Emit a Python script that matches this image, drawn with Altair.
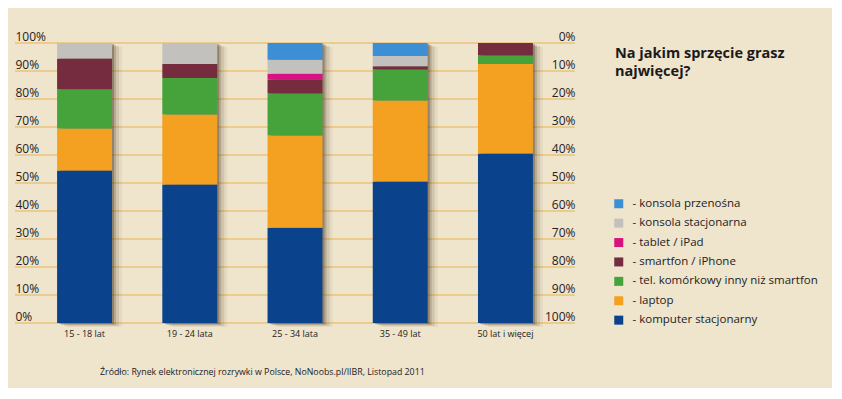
import altair as alt
import pandas as pd

# ---- data ----
categories = ["15 - 18 lat", "19 - 24 lata", "25 - 34 lata", "35 - 49 lat", "50 lat i więcej"]

komputer_stacjonarny = [54.5, 49.5, 34.0, 50.5, 60.5]
laptop = [15.0, 25.0, 33.0, 29.0, 32.0]
tel_komorkowy = [14.0, 13.0, 15.0, 11.0, 3.0]
smartfon = [11.0, 5.0, 5.0, 1.2, 4.5]
tablet = [0.0, 0.0, 2.0, 0.0, 0.0]
konsola_stacjonarna = [5.5, 7.5, 5.0, 3.7, 0.0]
konsola_przenosna = [0.0, 0.0, 6.0, 4.6, 0.0]

# stacking order bottom -> top
series_names = [
    "komputer stacjonarny",
    "laptop",
    "tel. komórkowy inny niż smartfon",
    "smartfon / iPhone",
    "tablet / iPad",
    "konsola stacjonarna",
    "konsola przenośna",
]
series_values = [komputer_stacjonarny, laptop, tel_komorkowy, smartfon, tablet,
                 konsola_stacjonarna, konsola_przenosna]
series_colors = ["#0a428b", "#f4a122", "#46a23a", "#742c3e", "#d7137f", "#c3c1be", "#3c8fd4"]

y_ticks = [0, 10, 20, 30, 40, 50, 60, 70, 80, 90, 100]

title_text = "Na jakim sprzęcie grasz\nnajwięcej?"
source_text = "Źródło: Rynek elektronicznej rozrywki w Polsce, NoNoobs.pl/IIBR,  Listopad 2011"

# ---- tables ----
rows = []
for k, (name, vals) in enumerate(zip(series_names, series_values)):
    for cat, v in zip(categories, vals):
        if v > 0:
            rows.append({"kat": cat, "urz": name, "val": v, "ord": k})
df = pd.DataFrame(rows)
totals = df.groupby("kat", sort=False)["val"].sum().reset_index()
ticks_df = pd.DataFrame({"v": y_ticks})

legend_domain = list(reversed(series_names))
legend_range = list(reversed(series_colors))

FONT = "Open Sans"
BG = "#efe4cc"
GRID = "#e8b350"

x_enc = alt.X("kat:N", sort=categories, title=None,
              scale=alt.Scale(paddingInner=0.478, paddingOuter=0.40),
              axis=alt.Axis(labelAngle=0, ticks=False, domain=False, labelPadding=6,
                            labelFontSize=9, labelFont=FONT, labelColor="#222"))

y_scale = alt.Scale(domain=[0, 100], nice=False)
y_axis = alt.Axis(values=y_ticks, labelExpr="datum.value + '%'", grid=False,
                  domain=False, ticks=False, labelAlign="left", labelBaseline="alphabetic",
                  labelPadding=0, labelOffset=-3, labelFontSize=12,
                  labelFont=FONT, labelColor="#222")

grid_layer = alt.Chart(ticks_df).mark_rule(color=GRID, strokeWidth=1).encode(
    y=alt.Y("v:Q", scale=y_scale, title=None, axis=y_axis)
)

shadows = []
for dx, dy, op in [(2, 1, 0.32), (4, 2, 0.20), (7, 3, 0.12), (10, 4, 0.06)]:
    shadows.append(
        alt.Chart(totals).mark_bar(color="#4a3820", opacity=op, xOffset=dx, yOffset=dy)
        .encode(x=x_enc, y=alt.Y("val:Q", scale=y_scale, title=None, axis=y_axis))
    )

bars = alt.Chart(df).mark_bar().encode(
    x=x_enc,
    y=alt.Y("val:Q", stack="zero", scale=y_scale, title=None, axis=y_axis),
    color=alt.Color("urz:N", scale=alt.Scale(domain=legend_domain, range=legend_range),
                    legend=alt.Legend(orient="none", legendX=598, legendY=155, title=None,
                                      symbolType="square", symbolSize=81,
                                      symbolStrokeWidth=0, labelFontSize=11.5,
                                      labelFont=FONT, labelColor="#222", labelOffset=8,
                                      labelLimit=400, rowPadding=6.4, padding=0,
                                      labelExpr="'- ' + datum.label")),
    order=alt.Order("ord:Q", sort="ascending"),
)

title_layer = alt.Chart(pd.DataFrame({"t": [title_text]})).mark_text(
    align="left", baseline="alphabetic", lineBreak="\n", fontSize=14.5,
    fontWeight="bold", font=FONT, color="#1a1a1a", lineHeight=18
).encode(x=alt.value(600), y=alt.value(15), text="t:N")

source_layer = alt.Chart(pd.DataFrame({"t": [source_text]})).mark_text(
    align="left", baseline="alphabetic", fontSize=8.8, font=FONT, color="#222"
).encode(x=alt.value(85), y=alt.value(332), text="t:N")

main = alt.layer(grid_layer, *shadows, bars, title_layer, source_layer)

right_axis = alt.Chart(ticks_df).mark_point(opacity=0).encode(
    y=alt.Y("v:Q", title=None, scale=alt.Scale(domain=[0, 100], reverse=True, nice=False),
            axis=alt.Axis(orient="right", values=y_ticks, labelExpr="datum.value + '%'",
                          grid=False, domain=False, ticks=False, labelAlign="right",
                          labelBaseline="alphabetic", labelPadding=0, labelOffset=-3,
                          labelFontSize=12, labelFont=FONT, labelColor="#222"))
)

chart = alt.layer(main, right_axis).resolve_scale(y="independent").properties(
    width=560, height=280,
    autosize=alt.AutoSizeParams(type="none"),
    padding={"left": 7, "top": 35, "right": 257, "bottom": 65},
    background=BG,
).configure_view(stroke=None)

chart.save("out.html", embed_options={"renderer": "svg", "actions": False})
